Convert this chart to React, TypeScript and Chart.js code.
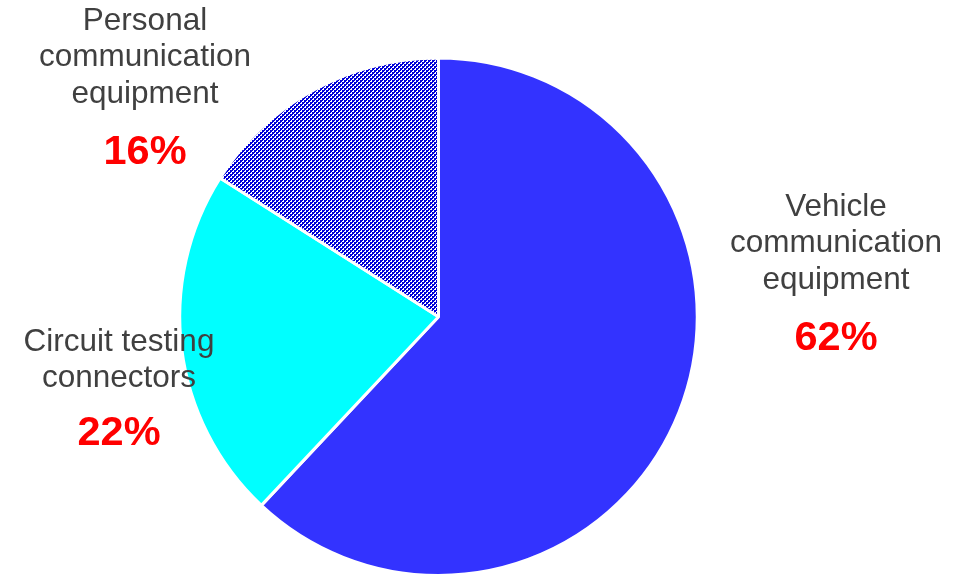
import React, { useEffect, useRef } from "react";
import { Chart, registerables } from "chart.js";

Chart.register(...registerables);

const categories = ["Vehicle communication equipment", "Circuit testing connectors", "Personal communication equipment"];
const labelLines = [["Vehicle", "communication", "equipment"], ["Circuit testing", "connectors"], ["Personal", "communication", "equipment"]];
const values = [62, 22, 16];
const percentLabels = ["62%", "22%", "16%"];

function makePattern(): CanvasPattern | string {
  const c = document.createElement("canvas");
  c.width = 4;
  c.height = 4;
  const ctx = c.getContext("2d");
  if (!ctx) return "#0000DD";
  ctx.fillStyle = "#FFFFFF";
  ctx.fillRect(0, 0, 4, 4);
  ctx.fillStyle = "#0000D8";
  ctx.fillRect(0, 0, 2, 2);
  ctx.fillRect(2, 2, 2, 2);
  ctx.fillRect(2, 0, 1, 1);
  ctx.fillRect(0, 2, 1, 1);
  return ctx.createPattern(c, "repeat") || "#0000DD";
}

// label anchors (text layout, not marks)
const labelPos = [
  { x: 836, y: 207, pctY: 339 },
  { x: 119, y: 342, pctY: 434 },
  { x: 145, y: 21, pctY: 153 },
];

const labelPlugin = {
  id: "sliceLabels",
  afterDraw(chart: any) {
    const ctx = chart.ctx;
    ctx.save();
    ctx.textAlign = "center";
    ctx.textBaseline = "middle";
    labelLines.forEach((lines, i) => {
      const p = labelPos[i];
      ctx.fillStyle = "#404040";
      ctx.font = "31.5px 'Liberation Sans', Arial, sans-serif";
      lines.forEach((ln, j) => ctx.fillText(ln, p.x, p.y + j * 36.5));
      ctx.fillStyle = "#FF0000";
      ctx.font = "bold 41.5px 'Liberation Sans', Arial, sans-serif";
      ctx.fillText(percentLabels[i], p.x, p.pctY);
    });
    ctx.restore();
  },
};

export default function App() {
  const ref = useRef<HTMLCanvasElement>(null);
  useEffect(() => {
    document.body.style.margin = "0";
    const chart = new Chart(ref.current!, {
      type: "pie",
      data: {
        labels: categories,
        datasets: [
          {
            data: values,
            backgroundColor: ["#3333FF", "#00FFFF", makePattern() as any],
            borderColor: "#FFFFFF",
            borderWidth: 3,
          },
        ],
      },
      options: {
        responsive: false,
        animation: false,
        layout: { padding: { top: 56.5, bottom: -7.5, left: 174.5, right: 263.5 } },
        plugins: { legend: { display: false }, tooltip: { enabled: false } },
      },
      plugins: [labelPlugin],
    });
    return () => chart.destroy();
  }, []);
  return (
    <div style={{ width: 966, height: 577 }}>
      <canvas ref={ref} width={966} height={577} style={{ display: "block" }} />
    </div>
  );
}
